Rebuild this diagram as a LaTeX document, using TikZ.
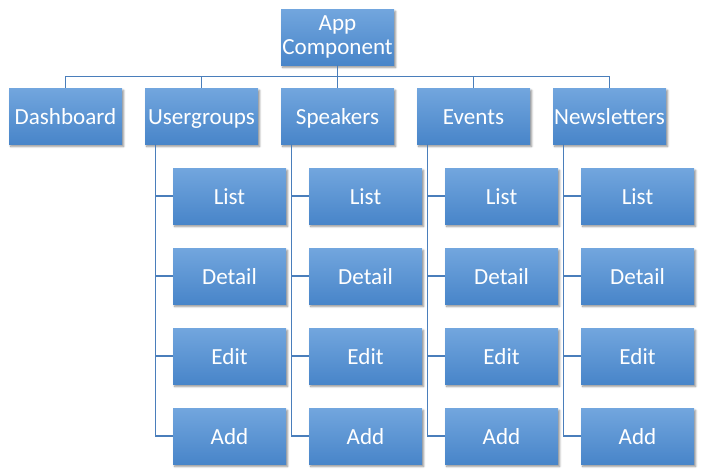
\documentclass[tikz,border=0pt]{standalone}
\usepackage{fontspec}
\setmainfont{Carlito}
\usetikzlibrary{shadows.blur}
\definecolor{boxtop}{RGB}{114,166,222}
\definecolor{boxbot}{RGB}{72,133,201}
\definecolor{linec}{RGB}{74,126,187}
\begin{document}
\begin{tikzpicture}[x=0.75pt,y=-0.75pt,
  boxbase/.style={rectangle, minimum width=84.75pt, minimum height=42pt, inner sep=0pt,
    top color=boxtop, bottom color=boxbot, draw=none, text=white,
    font=\fontsize{17.3}{18.5}\selectfont,
    blur shadow={shadow xshift=1.2pt, shadow yshift=-1.8pt, shadow blur steps=6, shadow blur radius=1.5pt, shadow opacity=45}},
  box/.style={boxbase, text height=12pt, text depth=0pt},
  appbox/.style={boxbase, align=center, font=\fontsize{17.3}{18.2}\selectfont},
  conn/.style={draw=linec, line width=0.8pt}]
\useasboundingbox (0,0) rectangle (706,475);
\node[appbox] (app) at (337.5,37) {App\\Component};
\path[use as bounding box] (0,0) rectangle (706,475);
\node[box] (dash) at (65.5,116) {Dashboard};
\foreach \n/\t/\x in {ug/Usergroups/201.5, sp/Speakers/337.5, ev/Events/473.5, nl/Newsletters/609.5}{
  \node[box] (\n) at (\x,116) {\t};
  \node[box] (\n L) at (\x+28,196) {List};
  \node[box] (\n D) at (\x+28,276) {Detail};
  \node[box] (\n E) at (\x+28,356) {Edit};
  \node[box] (\n A) at (\x+28,436) {Add};
}
\foreach \n in {dash,ug,sp,ev,nl}{
  \draw[conn] (app.south) -- ++(0,11) -| (\n.north);
}
\foreach \n in {ug,sp,ev,nl}{
  \foreach \c in {L,D,E,A}{
    \draw[conn] ([xshift=8.25pt]\n.south west) |- (\n\c.west);
  }
}
\end{tikzpicture}
\end{document}
